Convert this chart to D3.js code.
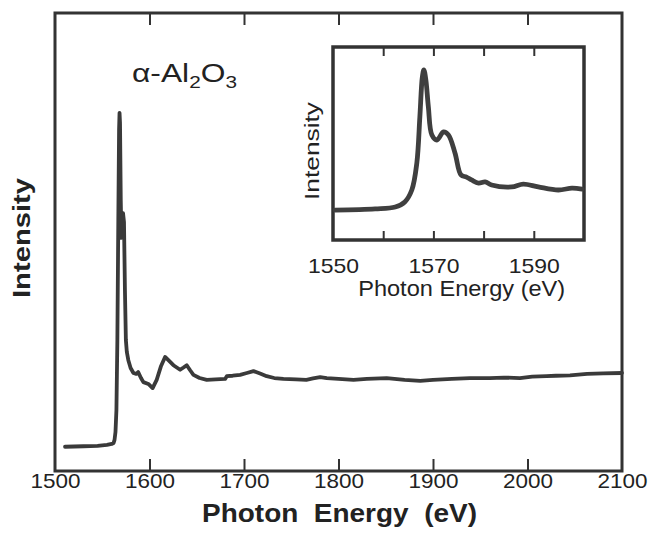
<!DOCTYPE html>
<html>
<head>
<meta charset="utf-8">
<script src="https://cdn.jsdelivr.net/npm/d3@7"></script>
<style>
  html, body { margin: 0; padding: 0; background: #fff; }
  svg { display: block; font-family: "Liberation Sans", Arial, Helvetica, sans-serif; }
</style>
</head>
<body>
<svg id="chart" width="654" height="537"></svg>
<script>
// ---------- data ----------
const mainEnergy = [1510.6, 1530, 1545, 1555, 1560, 1562, 1563, 1564, 1565, 1566, 1567, 1567.8, 1568.3, 1568.8,
  1569.6, 1570.3, 1571, 1572, 1573, 1574, 1575, 1576, 1577.6, 1580, 1583, 1586, 1588, 1591, 1593.5, 1598.8,
  1603.3, 1607.6, 1612, 1616.5, 1620, 1625.3, 1632.4, 1636, 1639.4, 1643, 1646.5, 1653, 1660.6, 1670, 1680,
  1681.8, 1688, 1695.9, 1703, 1710, 1717, 1724, 1732, 1741.7, 1755, 1766, 1773, 1780.6, 1787.6, 1800, 1815.9,
  1830, 1851, 1870, 1886.5, 1900, 1920, 1939, 1960, 1975, 1992, 2005, 2020, 2030, 2045, 2063, 2080, 2100];
const mainIntensity = [0.053, 0.054, 0.055, 0.057, 0.059, 0.061, 0.068, 0.085, 0.133, 0.286, 0.548, 0.745, 0.782, 0.760,
  0.590, 0.509, 0.537, 0.563, 0.544, 0.395, 0.286, 0.260, 0.242, 0.225, 0.214, 0.212, 0.216, 0.203, 0.194, 0.190,
  0.181, 0.199, 0.228, 0.249, 0.242, 0.231, 0.221, 0.226, 0.231, 0.220, 0.210, 0.203, 0.199, 0.200, 0.201,
  0.207, 0.208, 0.210, 0.214, 0.218, 0.213, 0.207, 0.203, 0.201, 0.200, 0.199, 0.202, 0.205, 0.203, 0.201, 0.199,
  0.201, 0.203, 0.199, 0.197, 0.199, 0.201, 0.203, 0.203, 0.204, 0.203, 0.206, 0.207, 0.208, 0.209, 0.212, 0.213, 0.214];

const insetEnergy = [1550.4, 1558.4, 1562.4, 1564.3, 1565.7, 1566.7, 1567.3, 1567.8, 1568.1, 1568.5, 1569, 1569.7,
  1570.7, 1572, 1573, 1574.3, 1575.5, 1576.6, 1577.6, 1579, 1580.3, 1581.6, 1585.6, 1587.9, 1590.9, 1594.9, 1597.6, 1599.6];
const insetIntensity = [0.155, 0.161, 0.171, 0.197, 0.259, 0.399, 0.637, 0.845, 0.881, 0.829, 0.689, 0.544,
  0.518, 0.560, 0.544, 0.451, 0.337, 0.326, 0.311, 0.295, 0.301, 0.285, 0.275, 0.290, 0.275, 0.259, 0.269, 0.264];

const mainTicks = [1500, 1600, 1700, 1800, 1900, 2000, 2100];
const insetTicks = [1550, 1560, 1570, 1580, 1590, 1600];
const insetTickLabels = [1550, 1570, 1590];

const xTitle = "Photon  Energy  (eV)";
const yTitle = "Intensity";
const insetXTitle = "Photon Energy (eV)";
const insetYTitle = "Intensity";

// ---------- drawing ----------
const svg = d3.select("#chart");
const ink = "#333";
const textInk = "#222";

// main plot
const M = { left: 55, right: 622, top: 13, bottom: 471 };
const x = d3.scaleLinear().domain([1500, 2100]).range([M.left, M.right]);
const y = d3.scaleLinear().domain([0, 1]).range([M.bottom, M.top]);

// inward ticks, bottom & top
const inner = mainTicks.filter(t => t > 1500 && t < 2100);
svg.append("g").attr("transform", `translate(0,${M.bottom})`)
  .call(d3.axisTop(x).tickValues(inner).tickSize(12).tickFormat(""))
  .call(g => g.select(".domain").remove())
  .call(g => g.selectAll("line").attr("stroke", ink).attr("stroke-width", 2));
svg.append("g").attr("transform", `translate(0,${M.top})`)
  .call(d3.axisBottom(x).tickValues(inner).tickSize(12).tickFormat(""))
  .call(g => g.select(".domain").remove())
  .call(g => g.selectAll("line").attr("stroke", ink).attr("stroke-width", 2));

// tick labels
svg.append("g").attr("transform", `translate(0,${M.bottom})`)
  .call(d3.axisBottom(x).tickValues(mainTicks).tickSize(0).tickPadding(0).tickFormat(d3.format("d")))
  .call(g => g.select(".domain").remove())
  .call(g => g.selectAll("text")
    .attr("y", 16.5).attr("dy", null)
    .attr("font-size", 21).attr("fill", textInk)
    .attr("font-family", "'Liberation Sans', Arial, sans-serif")
    .attr("textLength", 50).attr("lengthAdjust", "spacingAndGlyphs"));

// frame
svg.append("rect")
  .attr("x", M.left).attr("y", M.top)
  .attr("width", M.right - M.left).attr("height", M.bottom - M.top)
  .attr("fill", "none").attr("stroke", ink).attr("stroke-width", 3);

// main curve
const line = d3.line().x((d, i) => x(mainEnergy[i])).y(d => y(d)).curve(d3.curveLinear);
svg.append("path")
  .attr("d", line(mainIntensity))
  .attr("fill", "none").attr("stroke", "#3a3a3a").attr("stroke-width", 3.8)
  .attr("stroke-linejoin", "round").attr("stroke-linecap", "round");

// axis titles
svg.append("text")
  .attr("x", 339.5).attr("y", 522)
  .attr("text-anchor", "middle").attr("font-weight", "bold").attr("font-size", 26)
  .attr("fill", textInk).attr("xml:space", "preserve").style("white-space", "pre")
  .attr("textLength", 275).attr("lengthAdjust", "spacingAndGlyphs")
  .text(xTitle);

svg.append("text")
  .attr("transform", `translate(30,238) rotate(-90)`)
  .attr("text-anchor", "middle").attr("font-weight", "bold").attr("font-size", 24)
  .attr("fill", textInk)
  .attr("textLength", 120).attr("lengthAdjust", "spacingAndGlyphs")
  .text(yTitle);

// compound label α-Al2O3
const lab = svg.append("text")
  .attr("x", 132).attr("y", 81.7)
  .attr("font-size", 26).attr("fill", textInk)
  .attr("textLength", 105).attr("lengthAdjust", "spacingAndGlyphs");
lab.append("tspan").text("α-Al");
lab.append("tspan").attr("font-size", 17).attr("dy", 6).text("2");
lab.append("tspan").attr("dy", -6).text("O");
lab.append("tspan").attr("font-size", 17).attr("dy", 6).text("3");

// ---------- inset ----------
const I = { left: 333, right: 584, top: 47, bottom: 240 };
const xi = d3.scaleLinear().domain([1550, 1600]).range([I.left, I.right]);
const yi = d3.scaleLinear().domain([0, 1]).range([I.bottom, I.top]);

svg.append("rect")
  .attr("x", I.left).attr("y", I.top)
  .attr("width", I.right - I.left).attr("height", I.bottom - I.top)
  .attr("fill", "#fff");

const innerI = insetTicks.filter(t => t > 1550 && t < 1600);
svg.append("g").attr("transform", `translate(0,${I.bottom})`)
  .call(d3.axisTop(xi).tickValues(innerI).tickSize(9).tickFormat(""))
  .call(g => g.select(".domain").remove())
  .call(g => g.selectAll("line").attr("stroke", ink).attr("stroke-width", 2));
svg.append("g").attr("transform", `translate(0,${I.top})`)
  .call(d3.axisBottom(xi).tickValues(innerI).tickSize(9).tickFormat(""))
  .call(g => g.select(".domain").remove())
  .call(g => g.selectAll("line").attr("stroke", ink).attr("stroke-width", 2));

svg.append("g").attr("transform", `translate(0,${I.bottom})`)
  .call(d3.axisBottom(xi).tickValues(insetTickLabels).tickSize(0).tickPadding(0).tickFormat(d3.format("d")))
  .call(g => g.select(".domain").remove())
  .call(g => g.selectAll("text")
    .attr("y", 32.5).attr("dy", null)
    .attr("font-size", 21).attr("fill", textInk)
    .attr("font-family", "'Liberation Sans', Arial, sans-serif")
    .attr("textLength", 51).attr("lengthAdjust", "spacingAndGlyphs"));

svg.append("rect")
  .attr("x", I.left).attr("y", I.top)
  .attr("width", I.right - I.left).attr("height", I.bottom - I.top)
  .attr("fill", "none").attr("stroke", ink).attr("stroke-width", 3.5);

const lineI = d3.line().x((d, i) => xi(insetEnergy[i])).y(d => yi(d)).curve(d3.curveCatmullRom.alpha(0.5));
svg.append("path")
  .attr("d", lineI(insetIntensity))
  .attr("fill", "none").attr("stroke", "#3f3f3f").attr("stroke-width", 4.8)
  .attr("stroke-linejoin", "round").attr("stroke-linecap", "round");

svg.append("text")
  .attr("x", 461.7).attr("y", 295.5)
  .attr("text-anchor", "middle").attr("font-size", 22.5).attr("fill", textInk)
  .attr("textLength", 207).attr("lengthAdjust", "spacingAndGlyphs")
  .text(insetXTitle);

svg.append("text")
  .attr("transform", `translate(319,151) rotate(-90)`)
  .attr("text-anchor", "middle").attr("font-size", 21).attr("fill", textInk)
  .attr("textLength", 98).attr("lengthAdjust", "spacingAndGlyphs")
  .text(insetYTitle);
</script>
</body>
</html>
